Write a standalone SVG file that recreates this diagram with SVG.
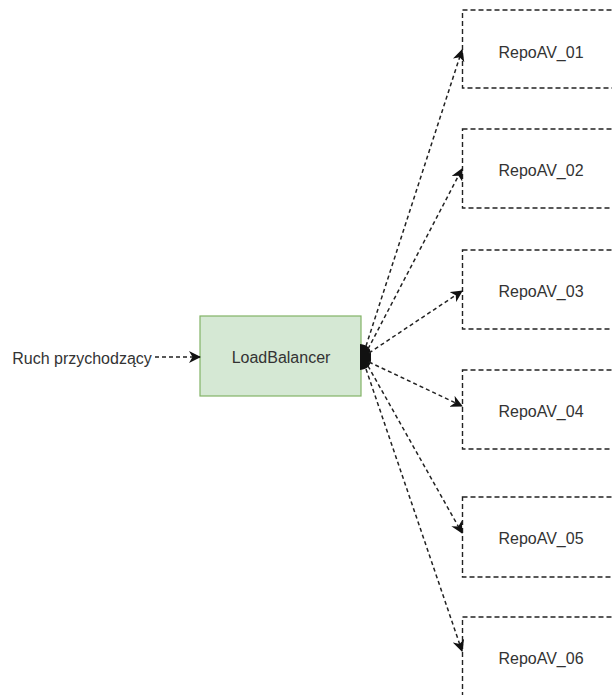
<svg xmlns="http://www.w3.org/2000/svg" width="612" height="695" viewBox="0 0 612 695">
<style>
.lbl{font-family:"Liberation Sans",Arial,sans-serif;font-size:16px;fill:#333;text-anchor:middle;dominant-baseline:central}
.repo{fill:#fff;stroke:#222;stroke-width:1.4;stroke-dasharray:5 3}
.edge{fill:none;stroke:#222;stroke-width:1.5;stroke-dasharray:4 3}
</style>
<defs>
<marker id="arr" markerWidth="12" markerHeight="12" refX="11" refY="6" orient="auto" markerUnits="userSpaceOnUse">
<path d="M0,0 L12,6 L0,12 L3.5,6 Z" fill="#111"/>
</marker>
</defs>
<rect width="612" height="695" fill="#fff"/>
<g id="input">
<text class="lbl" x="82" y="358">Ruch przychodzący</text>
</g>
<g id="loadbalancer">
<rect x="200" y="316" width="161" height="80" fill="#d5e8d4" stroke="#82b366" stroke-width="1.2"/>
<text class="lbl" x="281" y="357">LoadBalancer</text>
</g>
<g id="repo1"><rect class="repo" x="462.5" y="10" width="170" height="78"/><text class="lbl" x="541" y="52">RepoAV_01</text></g>
<g id="repo2"><rect class="repo" x="462.5" y="129" width="170" height="79"/><text class="lbl" x="541" y="170">RepoAV_02</text></g>
<g id="repo3"><rect class="repo" x="462.5" y="250" width="170" height="79"/><text class="lbl" x="541" y="291">RepoAV_03</text></g>
<g id="repo4"><rect class="repo" x="462.5" y="370" width="170" height="79"/><text class="lbl" x="541" y="411">RepoAV_04</text></g>
<g id="repo5"><rect class="repo" x="462.5" y="497" width="170" height="80"/><text class="lbl" x="541" y="538">RepoAV_05</text></g>
<g id="repo6"><rect class="repo" x="462.5" y="617" width="170" height="90"/><text class="lbl" x="541" y="658">RepoAV_06</text></g>
<g id="connectors">
<path class="edge" d="M155,357 L200,357" marker-end="url(#arr)"/>
<path d="M360,344 Q372,345 371,357 Q372,369 360,370 Z" fill="#111"/>
<path class="edge" d="M366,346 L462,50" marker-end="url(#arr)"/>
<path class="edge" d="M368,349 L462,169" marker-end="url(#arr)"/>
<path class="edge" d="M369,353 L462,291" marker-end="url(#arr)"/>
<path class="edge" d="M369,362 L462,406" marker-end="url(#arr)"/>
<path class="edge" d="M368,366 L462,533" marker-end="url(#arr)"/>
<path class="edge" d="M366,369 L462,651" marker-end="url(#arr)"/>
</g>
</svg>
